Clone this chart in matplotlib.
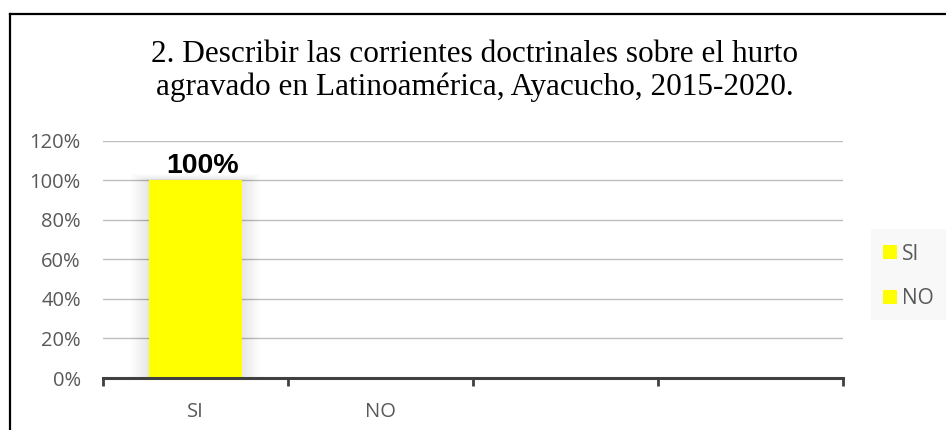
import matplotlib.pyplot as plt
from matplotlib.lines import Line2D
from matplotlib.patches import Patch, Rectangle

# data
categories = ['SI', 'NO', '', '']
values = [1.0, 0.0, None, None]
series_labels = ['SI', 'NO']
y_ticks = [0, 0.2, 0.4, 0.6, 0.8, 1.0, 1.2]
y_tick_labels = ['0%', '20%', '40%', '60%', '80%', '100%', '120%']
title = '2. Describir las corrientes doctrinales sobre el hurto\nagravado en Latinoamérica, Ayacucho, 2015-2020.'

yellow = '#FFFF00'
axis_col = '#404040'
text_col = '#595959'

fig = plt.figure(figsize=(9.46, 4.3), dpi=100)
ax = fig.add_axes([103 / 946, 1 - 378 / 430, 740 / 946, (378 - 140.5) / 430])

x = list(range(len(categories)))
bar_w = 0.5

# soft shadow behind the bars
for i, v in enumerate(values):
    if not v:
        continue
    for k in range(1, 9):
        pad = k * 0.012
        ax.add_patch(Rectangle((i - bar_w / 2 - pad, 0), bar_w + 2 * pad, v + pad * 0.3,
                               facecolor='black', alpha=0.012, edgecolor='none', zorder=1))

heights = [v if v is not None else 0 for v in values]
ax.bar(x, heights, width=bar_w, color=yellow, zorder=3)

for i, v in enumerate(values):
    if v:
        ax.text(i + 0.04, v + 0.005, f'{v:.0%}', ha='center', va='bottom', fontsize=20.5,
                fontweight='bold', family='Liberation Sans', color='black', zorder=4)

ax.set_xlim(-0.5, len(categories) - 0.5)
ax.set_ylim(0, 1.2)
ax.set_yticks(y_ticks)
ax.set_yticklabels(y_tick_labels)
ax.set_xticks(x)
ax.set_xticklabels(categories)
ax.set_xticks([i - 0.5 for i in range(len(categories) + 1)], minor=True)

ax.grid(axis='y', color='#BFBFBF', linewidth=1.0, zorder=0)
ax.set_axisbelow(True)
for s in ['top', 'right', 'left']:
    ax.spines[s].set_visible(False)
ax.spines['bottom'].set_color(axis_col)
ax.spines['bottom'].set_linewidth(2.2)
ax.spines['bottom'].set_zorder(5)

ax.tick_params(axis='y', length=0, pad=16, labelsize=14.5, labelcolor=text_col)
ax.tick_params(axis='x', which='major', length=0, pad=17, labelsize=14.5, labelcolor=text_col)
ax.tick_params(axis='x', which='minor', length=6, width=2, color=axis_col, direction='out')
for lab in ax.get_xticklabels() + ax.get_yticklabels():
    lab.set_family('Open Sans')

fig.text(0.502, 1 - 71 / 430, title, ha='center', va='center', fontsize=22.5,
         family='Liberation Serif', linespacing=1.2)

# legend
fig.add_artist(Rectangle((871 / 946, 1 - 320 / 430), 80 / 946, 91 / 430,
                         transform=fig.transFigure, facecolor='#F8F8F8', edgecolor='none'))
handles = [Patch(facecolor=yellow, edgecolor='none', label=l) for l in series_labels]
leg = fig.legend(handles=handles, loc='center left', bbox_to_anchor=(883 / 946, 1 - 276.5 / 430),
                 frameon=False, fontsize=15, handlelength=0.65, handleheight=0.65,
                 handletextpad=0.25, labelspacing=1.15, borderaxespad=0, borderpad=0)
for t in leg.get_texts():
    t.set_color(text_col)
    t.set_family('Open Sans')

# outer border (top and left visible)
fig.add_artist(Line2D([9.5 / 946, 1], [1 - 13.5 / 430, 1 - 13.5 / 430], color='black',
                      linewidth=1.6, transform=fig.transFigure))
fig.add_artist(Line2D([9.5 / 946, 9.5 / 946], [0, 1 - 13.5 / 430], color='black',
                      linewidth=1.6, transform=fig.transFigure))

fig.savefig('out.png', dpi=100)
